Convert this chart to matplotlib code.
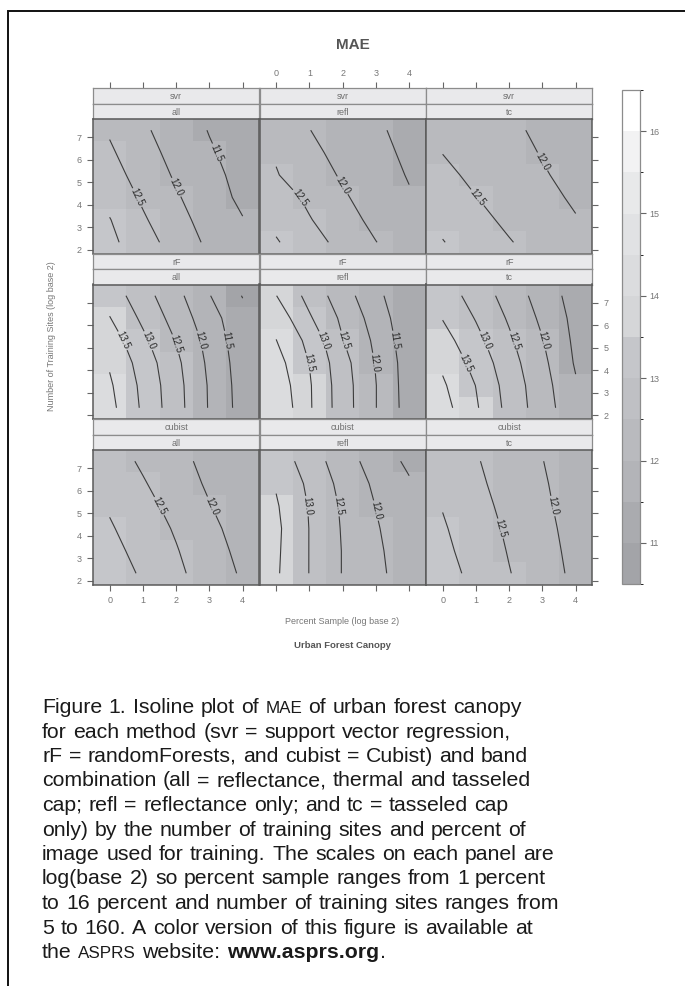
import re
import numpy as np
import matplotlib
matplotlib.use('Agg')
import matplotlib.pyplot as plt
from matplotlib.colors import ListedColormap, BoundaryNorm
from matplotlib.colorbar import Colorbar
from matplotlib.font_manager import FontProperties

plt.rcParams['font.family'] = ['Liberation Sans', 'DejaVu Sans']

W, H = 685, 986

# grid: percent sample (log2) along x, training sites along y
pct_log2 = [0, 1, 2, 3, 4]
sites = [5, 10, 20, 40, 80, 160]
y_ticks = [2, 3, 4, 5, 6, 7]
cbar_ticks = [11, 12, 13, 14, 15, 16]
methods = ['svr', 'rF', 'cubist']
bands = ['all', 'refl', 'tc']
levels = [10.5, 11.0, 11.5, 12.0, 12.5, 13.0, 13.5, 14.0, 14.5, 15.0, 15.5, 16.0, 16.5]
band_colors = ['#a3a4a8', '#aaabaf', '#b3b4b8', '#b9babe', '#bfc0c4', '#c5c6ca',
               '#d5d6d8', '#dbdcde', '#e1e2e4', '#e8e9ea', '#f2f2f3', '#ffffff']

# MAE, one row per number of sites (5 ... 160), one column per log2 percent (0 ... 4)
svr_all = [[13.12, 12.70, 12.30, 11.90, 11.60],
           [13.02, 12.56, 12.17, 11.80, 11.52],
           [12.85, 12.43, 12.05, 11.72, 11.40],
           [12.70, 12.30, 11.94, 11.64, 11.35],
           [12.57, 12.19, 11.84, 11.55, 11.32],
           [12.45, 12.08, 11.75, 11.48, 11.30]]
svr_refl = [[13.04, 12.70, 12.35, 12.01, 11.72],
            [12.88, 12.53, 12.20, 11.87, 11.60],
            [12.75, 12.40, 12.06, 11.78, 11.54],
            [12.53, 12.22, 11.95, 11.70, 11.47],
            [12.45, 12.12, 11.85, 11.62, 11.42],
            [12.35, 12.01, 11.76, 11.56, 11.38]]
svr_tc = [[13.02, 12.76, 12.53, 12.30, 12.08],
          [12.88, 12.64, 12.40, 12.20, 12.02],
          [12.76, 12.51, 12.30, 12.10, 11.95],
          [12.63, 12.38, 12.20, 12.03, 11.90],
          [12.49, 12.28, 12.12, 11.98, 11.86],
          [12.40, 12.20, 12.06, 11.94, 11.83]]
rF_all = [[14.15, 13.42, 12.69, 11.96, 11.30],
          [14.07, 13.38, 12.67, 11.95, 11.28],
          [13.95, 13.29, 12.61, 11.90, 11.25],
          [13.77, 13.11, 12.48, 11.83, 11.20],
          [13.52, 12.90, 12.30, 11.70, 11.16],
          [13.29, 12.70, 12.15, 11.52, 10.98]]
rF_refl = [[14.44, 13.56, 12.74, 12.01, 11.28],
           [14.34, 13.55, 12.73, 12.01, 11.26],
           [14.20, 13.49, 12.68, 11.97, 11.25],
           [14.01, 13.36, 12.52, 11.90, 11.19],
           [13.82, 13.06, 12.40, 11.78, 11.14],
           [13.51, 12.84, 12.22, 11.64, 11.06]]
rF_tc = [[14.19, 13.56, 12.84, 12.23, 11.65],
         [14.07, 13.49, 12.79, 12.20, 11.55],
         [13.91, 13.33, 12.70, 12.12, 11.45],
         [13.70, 13.15, 12.58, 12.02, 11.40],
         [13.48, 12.97, 12.44, 11.90, 11.36],
         [13.28, 12.79, 12.30, 11.78, 11.30]]
cubist_all = [[13.27, 12.93, 12.60, 12.27, 11.94],
              [13.15, 12.84, 12.53, 12.20, 11.87],
              [13.05, 12.75, 12.45, 12.12, 11.80],
              [12.95, 12.66, 12.34, 12.02, 11.72],
              [12.85, 12.54, 12.24, 11.93, 11.65],
              [12.72, 12.43, 12.15, 11.86, 11.60]]
cubist_refl = [[13.56, 12.99, 12.48, 12.12, 11.75],
               [13.58, 12.99, 12.48, 12.08, 11.75],
               [13.60, 12.99, 12.46, 12.04, 11.72],
               [13.55, 12.97, 12.43, 11.99, 11.68],
               [13.46, 12.90, 12.35, 11.91, 11.56],
               [13.25, 12.80, 12.19, 11.82, 11.39]]
cubist_tc = [[13.19, 12.86, 12.52, 12.21, 11.90],
             [13.11, 12.80, 12.47, 12.17, 11.87],
             [13.05, 12.74, 12.42, 12.13, 11.84],
             [12.98, 12.67, 12.36, 12.09, 11.80],
             [12.90, 12.60, 12.30, 12.05, 11.78],
             [12.83, 12.54, 12.25, 12.01, 11.75]]

# which isolines carry a label in each panel
svr_labels = [[11.5, 12.0, 12.5], [12.0, 12.5], [12.0, 12.5]]
rF_labels = [[11.5, 12.0, 12.5, 13.0, 13.5], [11.5, 12.0, 12.5, 13.0, 13.5], [12.0, 12.5, 13.0, 13.5]]
cubist_labels = [[12.0, 12.5], [12.0, 12.5, 13.0], [12.0, 12.5]]

grids = [[svr_all, svr_refl, svr_tc],
         [rF_all, rF_refl, rF_tc],
         [cubist_all, cubist_refl, cubist_tc]]
labelled = [svr_labels, rF_labels, cubist_labels]

caption = [
    "Figure 1. Isoline plot of ^MAE of urban forest canopy",
    "for each method (svr = support vector regression,",
    "rF = randomForests, and cubist = Cubist) and band",
    "combination (all = reflectance, thermal and tasseled",
    "cap; refl = reflectance only; and tc = tasseled cap",
    "only) by the number of training sites and percent of",
    "image used for training. The scales on each panel are",
    "log(base 2) so percent sample ranges from 1 percent",
    "to 16 percent and number of training sites ranges from",
    "5 to 160. A color version of this figure is available at",
    "the ^ASPRS website: *www.asprs.org*.",
]


def px_axes(fig, left, top, width, height):
    return fig.add_axes([left / W, 1 - (top + height) / H, width / W, height / H])


fig = plt.figure(figsize=(W / 100, H / 100), dpi=100)

cmap = ListedColormap(band_colors)
norm = BoundaryNorm(levels, cmap.N)
x = np.array(pct_log2, dtype=float)
y = np.log2(sites)

col_left = [93, 259.5, 426]
col_w = 166.3
row_top = [88, 253.5, 419]
strip_h = 15.5
panel_h = 134.5
tick_col = '#666666'
lab_col = '#777777'

for r in range(3):
    for c in range(3):
        z = np.array(grids[r][c])
        top = row_top[r]
        # two strips: method then band combination
        for k, name in enumerate([methods[r], bands[c]]):
            sax = px_axes(fig, col_left[c], top + k * strip_h, col_w, strip_h)
            sax.set_facecolor('#e9e9eb')
            sax.set_yticks([])
            sax.set_xlim(-0.5, 4.5)
            if r == 0 and k == 0:
                # top axis of the lattice sits above the strips
                sax.set_xticks(pct_log2)
                sax.tick_params(direction='out', length=4, width=0.8, color=tick_col,
                                labelsize=6.5, labelcolor=lab_col, pad=3,
                                top=True, labeltop=(c == 1), bottom=False,
                                labelbottom=False)
            else:
                sax.set_xticks([])
            for s in sax.spines.values():
                s.set_color('#8c8c8c')
                s.set_linewidth(0.9)
            sax.text(0.5, 0.45, name, ha='center', va='center', fontsize=6.5,
                     color='#6e6e6e', transform=sax.transAxes)

        ax = px_axes(fig, col_left[c], top + 2 * strip_h, col_w, panel_h)
        ax.pcolormesh(x, y, z, cmap=cmap, norm=norm, shading='nearest')
        cs = ax.contour(x, y, z, levels=levels, colors='#3c3c3c', linewidths=0.8)
        lab = [lv for lv in cs.levels if lv in labelled[r][c]]
        if lab:
            ax.clabel(cs, levels=lab, fmt='%.1f', fontsize=7, inline=True,
                      inline_spacing=1, colors='#2a2a2a')
        ax.set_xlim(-0.5, 4.5)
        ax.set_ylim(y[0] - 0.5, y[-1] + 0.5)
        ax.set_xticks(pct_log2)
        ax.set_yticks(y_ticks)
        ax.tick_params(direction='out', length=4, width=0.8, color=tick_col,
                       labelsize=6.5, labelcolor=lab_col, pad=4,
                       left=(c == 0), labelleft=(c == 0 and r != 1),
                       right=(c == 2), labelright=(c == 2 and r == 1),
                       top=False, labeltop=False,
                       bottom=(r == 2), labelbottom=(r == 2 and c != 1))
        for s in ax.spines.values():
            s.set_color('#5a5a5a')
            s.set_linewidth(1.1)

# colour key
cax = px_axes(fig, 622, 90, 18, 494)
cb = Colorbar(cax, cmap=cmap, norm=norm, boundaries=levels, ticks=cbar_ticks,
              orientation='vertical')
cb.outline.set_edgecolor('#8c8c8c')
cb.outline.set_linewidth(0.9)
cax.tick_params(direction='out', length=4, width=0.8, color=tick_col,
                labelsize=6.5, labelcolor=lab_col, pad=3)

# titles and axis labels
fig.text(353 / W, 1 - 45 / H, 'MAE', ha='center', va='center', fontsize=11,
         fontweight='bold', color='#555555')
fig.text(52 / W, 1 - 336 / H, 'Number of Training Sites (log base 2)', rotation=90,
         ha='center', va='center', fontsize=6.5, color=lab_col)
fig.text(342 / W, 1 - 622 / H, 'Percent Sample (log base 2)', ha='center',
         va='center', fontsize=6.5, color=lab_col)
fig.text(342 / W, 1 - 646 / H, 'Urban Forest Canopy', ha='center', va='center',
         fontsize=6.8, fontweight='bold', color='#555555')

# page frame (top and left rule)
frame = fig.add_axes([0, 0, 1, 1], facecolor='none')
frame.set_xlim(0, W)
frame.set_ylim(H, 0)
frame.axis('off')
frame.plot([8.5, 8.5, W], [H, 10.5, 10.5], color='#111111', lw=1.4,
           solid_joinstyle='miter')

# caption, drawn word by word so small caps and bold can be mixed
renderer = fig.canvas.get_renderer()
plain = [s.replace('^', '').replace('*', '') for s in caption]
cap_family = 'Liberation Sans'


def cap_font(size, bold=False):
    return FontProperties(family=cap_family, size=size,
                          weight='bold' if bold else 'normal')


def text_w(s, fp):
    t = fig.text(0, 0, s, fontproperties=fp)
    w = t.get_window_extent(renderer).width
    t.remove()
    return w


w10 = max(text_w(s, cap_font(10)) for s in plain)
base = min(10 * 618 / w10, 15.3)
space_w = text_w('a a', cap_font(base)) - text_w('aa', cap_font(base))
line_base = 713
line_gap = 24.5
for i, line in enumerate(caption):
    xpos = 42
    ypos = line_base + i * line_gap
    for word in line.split(' '):
        for run in re.findall(r'\*[^*]+\*|\^[A-Z]+|[^*^]+', word):
            size, bold, s = base, False, run
            if run.startswith('^'):
                size, s = base * 0.8, run[1:]
            elif run.startswith('*'):
                bold, s = True, run[1:-1]
            t = fig.text(xpos / W, 1 - ypos / H, s, fontproperties=cap_font(size, bold),
                         color='#1a1a1a', ha='left', va='baseline')
            xpos += t.get_window_extent(renderer).width + 0.6
        xpos += space_w

fig.savefig('out.png', dpi=100)
